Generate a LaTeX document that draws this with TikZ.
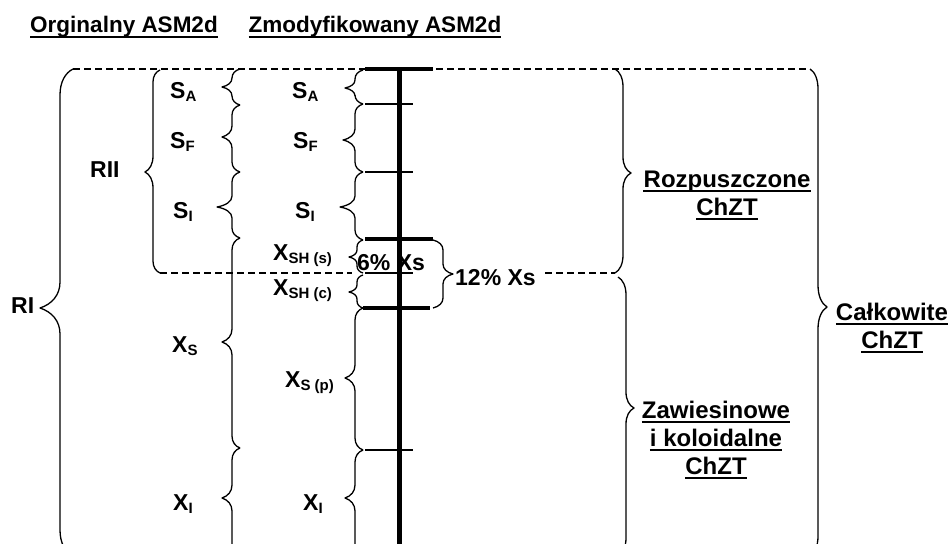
\documentclass[tikz,border=0pt]{standalone}
\usepackage{fontspec}
\setmainfont{Liberation Sans}
\tikzset{
  br/.style={line width=1.3pt, line join=round},
  dsh/.style={line width=1.2pt, dash pattern=on 7pt off 4pt},
  thk/.style={line width=3.5pt},
  thn/.style={line width=2pt},
  lab/.style={font=\fontsize{23}{23}\selectfont\bfseries, inner sep=0pt},
  big/.style={font=\fontsize{24}{24}\selectfont\bfseries, inner sep=0pt},
  ttl/.style={font=\fontsize{22.5}{22.5}\selectfont\bfseries, inner sep=0pt},
  uline/.style={line width=2pt},
}
\newcommand{\sbx}[1]{\raisebox{-3pt}{\fontsize{15}{15}\selectfont\bfseries #1}}
% brace: spine x, y top, y bottom, y tip, tip x, curl dx (signed), curl dy, tip half-span
\newcommand{\Br}[8]{%
  \draw[br] ({#1+#6},#2) .. controls ({#1+0.4*#6},{#2+0.15*#7}) and (#1,{#2+0.5*#7}) .. (#1,{#2+#7})
    -- (#1,{#4-#8}) .. controls (#1,{#4-0.5*#8}) and ({#1-0.4*(#1-#5)},{#4-0.15*#8}) .. (#5,#4)
    .. controls ({#1-0.4*(#1-#5)},{#4+0.15*#8}) and (#1,{#4+0.5*#8}) .. (#1,{#4+#8})
    -- (#1,{#3-#7}) .. controls (#1,{#3-0.5*#7}) and ({#1+0.4*#6},{#3-0.15*#7}) .. ({#1+#6},#3);}
\newcommand{\ulnode}[5]{%
  \node[#1,anchor=base] (#2) at (#3,#4) {#5};
  \draw[uline] ([yshift=-4pt]#2.base west) -- ([yshift=-4pt]#2.base east);}
\begin{document}
\begin{tikzpicture}[x=1pt,y=-1pt]
\useasboundingbox (0,0) rectangle (952,543);
\clip (0,0) rectangle (952,543);

% titles
\ulnode{ttl}{t1}{124}{33}{Orginalny ASM2d}
\ulnode{ttl}{t2}{375}{33}{Zmodyfikowany ASM2d}

% dashed lines
\draw[dsh] (73,69) -- (810,69);
\draw[dsh] (160,273) -- (352,273);
\draw[dsh] (545,273) -- (615,273);

% big braces (left)
\Br{60}{69}{556}{308}{40}{13}{26}{26}
\Br{153}{70}{273}{172}{145}{7}{12}{16}

% original column braces
\Br{232}{69}{105}{87}{222}{8}{9}{9}
\Br{232}{105}{172}{137}{222}{8}{10}{11}
\Br{232}{172}{238}{207}{217}{8}{10}{11}
\Br{232}{238}{448}{342}{222}{8}{12}{13}
\Br{232}{448}{556}{498}{222}{8}{12}{13}

% modified column braces
\Br{355}{70}{104}{88}{345}{8}{9}{8}
\Br{355}{104}{172}{140}{343}{8}{10}{11}
\Br{355}{172}{240}{207}{340}{8}{10}{11}
\Br{357}{240}{273}{257}{349}{6}{7}{7}
\Br{357}{275}{308}{292}{349}{6}{7}{7}
\Br{355}{308}{450}{378}{345}{8}{12}{13}
\Br{355}{450}{556}{498}{345}{8}{12}{13}

% right braces
\Br{443}{240}{308}{274}{453}{-10}{10}{10}
\Br{623}{69}{273}{173}{631}{-8}{18}{16}
\Br{626}{277}{556}{408}{634}{-8}{18}{16}
\Br{818}{69}{556}{307}{827}{-8}{20}{22}

% scale bar
\draw[line width=5pt] (399,67) -- (399,545);
\draw[thk] (365,69) -- (433,69);
\draw[thn] (365,104) -- (413,104);
\draw[thn] (365,172) -- (413,172);
\draw[thk] (365,239) -- (433,239);
\draw[thn] (365,273) -- (413,273);
\draw[thk] (363,308) -- (430,308);
\draw[thn] (365,450) -- (413,450);

% labels, original
\node[lab,anchor=base west] (rI) at (11,313) {RI};
\node[lab,anchor=base west] (rII) at (90,177) {RII};
\node[lab,anchor=base west] (sa1) at (170,98) {S\sbx{A}};
\node[lab,anchor=base west] (sf1) at (170,148) {S\sbx{F}};
\node[lab,anchor=base west] (si1) at (173,218) {S\sbx{I}};
\node[lab,anchor=base west] (xs1) at (172,352) {X\sbx{S}};
\node[lab,anchor=base west] (xi1) at (173,510) {X\sbx{I}};

% labels, modified
\node[lab,anchor=base west] (sa2) at (292,98) {S\sbx{A}};
\node[lab,anchor=base west] (sf2) at (293,148) {S\sbx{F}};
\node[lab,anchor=base west] (si2) at (295,218) {S\sbx{I}};
\node[lab,anchor=base west] (xshs) at (273,260) {X\sbx{SH (s)}};
\node[lab,anchor=base west] (xshc) at (273,295) {X\sbx{SH (c)}};
\node[lab,anchor=base west] (xsp) at (285,387) {X\sbx{S (p)}};
\node[lab,anchor=base west] (xi2) at (303,510) {X\sbx{I}};

\node[lab,anchor=base west] (p6) at (357,270) {6\% Xs};
\node[lab,anchor=base west] (p12) at (455,285) {12\% Xs};

% right labels
\ulnode{big}{roz1}{727}{187}{Rozpuszczone}
\ulnode{big}{roz2}{727}{215}{ChZT}
\ulnode{big}{zaw1}{716}{418}{Zawiesinowe}
\ulnode{big}{zaw2}{716}{446}{i koloidalne}
\ulnode{big}{zaw3}{716}{474}{ChZT}
\ulnode{big}{cal1}{892}{320}{Całkowite}
\ulnode{big}{cal2}{892}{348}{ChZT}
\end{tikzpicture}
\end{document}
